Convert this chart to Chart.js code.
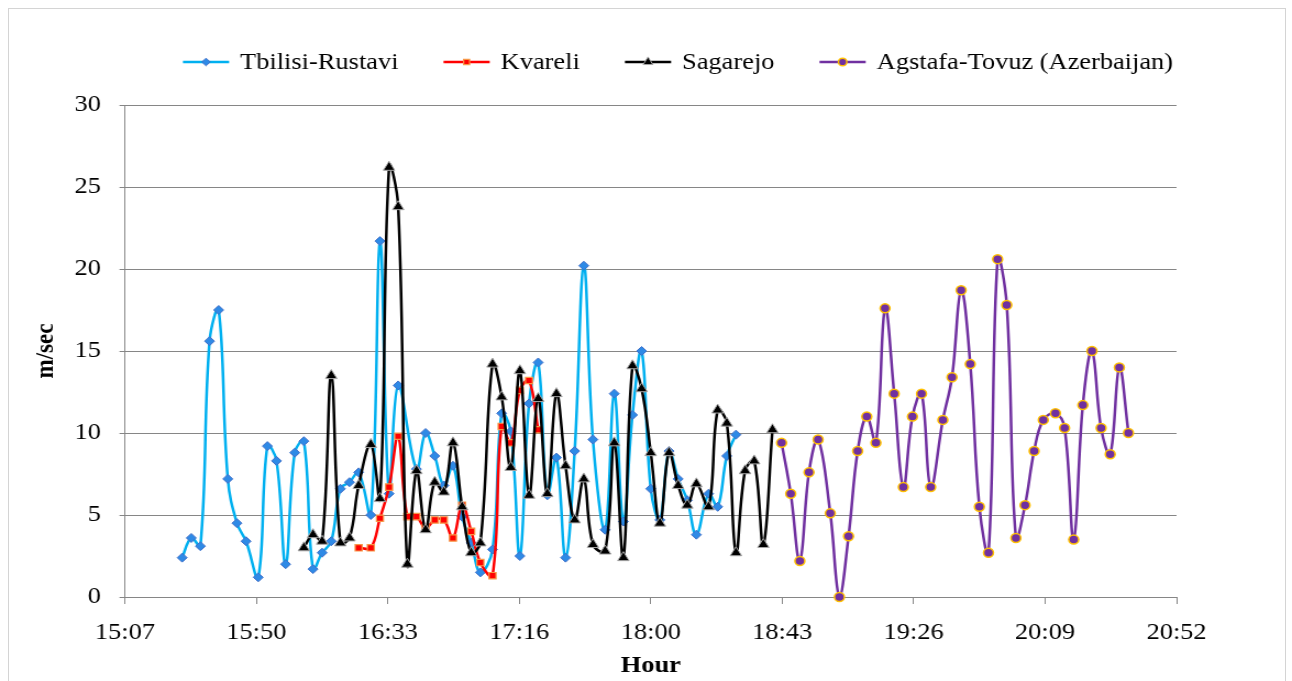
<!DOCTYPE html>
<html>
<head>
<meta charset="utf-8">
<title>Wind speed</title>
<script src="https://cdn.jsdelivr.net/npm/chart.js@4.4.3/dist/chart.umd.min.js"></script>
<style>
  html,body{margin:0;padding:0;background:#fff;}
  #wrap{position:relative;width:1292px;height:681px;overflow:hidden;}
  #chart{position:absolute;left:0;top:0;}
  #frame{position:absolute;left:8px;top:8px;width:1276px;height:700px;border:1px solid #d4d4d4;pointer-events:none;}
</style>
</head>
<body>
<div id="wrap">
  <canvas id="chart"></canvas>
  <div id="frame"></div>
</div>
<script>
// 원본 차트는 가로로 약간 늘어난 이미지 → 캔버스를 좁게 그리고 CSS로 늘림
const SX = 1.1;
const W = Math.round(1292 / SX), H = 681;
const FONT = "'Liberation Serif', 'Times New Roman', serif";

// 데이터 (시간 HH:MM, m/sec)
const seriesNames = ['Tbilisi-Rustavi', 'Kvareli', 'Sagarejo', 'Agstafa-Tovuz (Azerbaijan)'];

const tbilisiTimes = ['15:26','15:29','15:32','15:35','15:38','15:41','15:44','15:47','15:51','15:54','15:57',
  '16:00','16:03','16:06','16:09','16:12','16:15','16:18','16:21','16:24','16:28','16:31','16:34','16:37',
  '16:43','16:46','16:49','16:52','16:55','16:58','17:01','17:04','17:08','17:11','17:14','17:17','17:20',
  '17:23','17:26','17:29','17:32','17:35','17:38','17:41','17:45','17:48','17:51','17:54','17:57',
  '18:00','18:03','18:06','18:09','18:12','18:15','18:19','18:22','18:25','18:28'];
const tbilisiValues = [2.4,3.6,3.1,15.6,17.5,7.2,4.5,3.4,1.2,9.2,8.3,
  2.0,8.8,9.5,1.7,2.7,3.4,6.6,7.0,7.6,5.0,21.7,6.3,12.9,
  7.8,10.0,8.6,6.8,8.0,4.9,3.3,1.5,2.9,11.2,10.1,2.5,11.8,
  14.3,6.2,8.5,2.4,8.9,20.2,9.6,4.1,12.4,4.6,11.1,15.0,
  6.6,4.7,8.9,7.2,5.9,3.8,6.3,5.5,8.6,9.9];

const kvareliTimes = ['16:24','16:28','16:31','16:34','16:37','16:40','16:43','16:46','16:49','16:52',
  '16:55','16:58','17:01','17:04','17:08','17:11','17:14','17:17','17:20','17:23'];
const kvareliValues = [3.0,3.0,4.8,6.7,9.8,4.9,4.9,4.2,4.7,4.7,
  3.6,5.6,4.0,2.1,1.3,10.4,9.4,12.6,13.2,10.2];

const sagarejoTimes = ['16:06','16:09','16:12','16:15','16:18','16:21','16:24','16:28','16:31','16:34',
  '16:37','16:40','16:43','16:46','16:49','16:52','16:55','16:58','17:01','17:04','17:08','17:11',
  '17:14','17:17','17:20','17:23','17:26','17:29','17:32','17:35','17:38','17:41','17:45','17:48',
  '17:51','17:54','17:57','18:00','18:03','18:06','18:09','18:12','18:15','18:19','18:22','18:25',
  '18:28','18:31','18:34','18:37','18:40'];
const sagarejoValues = [3.0,3.8,3.4,13.5,3.3,3.6,6.8,9.3,6.0,26.2,
  23.8,2.0,7.7,4.1,7.0,6.4,9.4,5.5,2.7,3.3,14.2,12.2,
  7.9,13.8,6.2,12.1,6.3,12.4,8.0,4.7,7.2,3.2,2.8,9.4,
  2.4,14.1,12.7,8.8,4.5,8.8,6.8,5.6,6.9,5.5,11.4,10.6,
  2.7,7.7,8.3,3.2,10.2];

const agstafaTimes = ['18:43','18:46','18:49','18:52','18:55','18:59','19:02','19:05','19:08','19:11',
  '19:14','19:17','19:20','19:23','19:26','19:29','19:32','19:36','19:39','19:42','19:45','19:48',
  '19:51','19:54','19:57','20:00','20:03','20:06','20:09','20:13','20:16','20:19','20:22','20:25',
  '20:28','20:31','20:34','20:37'];
const agstafaValues = [9.4,6.3,2.2,7.6,9.6,5.1,0,3.7,8.9,11.0,
  9.4,17.6,12.4,6.7,11.0,12.4,6.7,10.8,13.4,18.7,14.2,5.5,
  2.7,20.6,17.8,3.6,5.6,8.9,10.8,11.2,10.3,3.5,11.7,15.0,
  10.3,8.7,14.0,10.0];

// x축 눈금 (Excel: 0.03일 = 43.2분 간격)
const xTickLabels = ['15:07','15:50','16:33','17:16','18:00','18:43','19:26','20:09','20:52'];
const xTickValues = [907.2, 950.4, 993.6, 1036.8, 1080, 1123.2, 1166.4, 1209.6, 1252.8];
const yTicks = [0, 5, 10, 15, 20, 25, 30];

const toMin = t => { const [h, m] = t.split(':').map(Number); return h * 60 + m; };
const pts = (times, vals) => times.map((t, i) => ({x: toMin(t), y: vals[i]}));

const canvas = document.getElementById('chart');
canvas.width = W; canvas.height = H;
// 인라인 스타일로 가로 늘림 (Chart.js가 덮어쓰지 않도록 미리 지정)
canvas.style.width = '1292px';
canvas.style.height = H + 'px';

// Excel 스타일 범례 (선 + 마커)
const excelLegend = {
  id: 'excelLegend',
  afterDraw(chart){
    const ctx = chart.ctx;
    ctx.save();
    ctx.font = `24px ${FONT}`;
    ctx.textBaseline = 'middle';
    ctx.textAlign = 'left';
    let x = 183 / SX;
    const y = 62;
    chart.data.datasets.forEach(ds => {
      ctx.strokeStyle = ds.borderColor; ctx.lineWidth = ds.borderWidth;
      ctx.beginPath(); ctx.moveTo(x, y); ctx.lineTo(x + 42, y); ctx.stroke();
      ctx.fillStyle = ds.pointBackgroundColor; ctx.strokeStyle = ds.pointBorderColor;
      ctx.lineWidth = ds.pointBorderWidth;
      Chart.helpers.drawPoint(ctx, {pointStyle: ds.pointStyle, radius: ds.pointRadius * 0.85,
        borderWidth: ds.pointBorderWidth, rotation: 0}, x + 21, y);
      ctx.fillStyle = '#000';
      ctx.fillText(ds.label, x + 52, y + 1);
      x += 52 + ctx.measureText(ds.label).width + 41;
    });
    ctx.restore();
  }
};

const base = {borderWidth: 2.5, tension: 0.4, clip: false, fill: false};

new Chart(canvas, {
  type: 'line',
  data: {
    datasets: [
      {...base, label: seriesNames[0], data: pts(tbilisiTimes, tbilisiValues), order: 3,
        borderColor: '#00B0F0', pointStyle: 'rectRot', pointRadius: 4.5,
        pointBackgroundColor: '#2E8AE6', pointBorderColor: '#3F6FC8', pointBorderWidth: 1},
      {...base, label: seriesNames[1], data: pts(kvareliTimes, kvareliValues), order: 2,
        borderColor: '#FF0000', pointStyle: 'rect', pointRadius: 4.5,
        pointBackgroundColor: '#FF0000', pointBorderColor: '#F79646', pointBorderWidth: 1.2},
      {...base, label: seriesNames[2], data: pts(sagarejoTimes, sagarejoValues), order: 1,
        borderColor: '#000000', pointStyle: 'triangle', pointRadius: 6,
        pointBackgroundColor: '#000000', pointBorderColor: '#A6A6A6', pointBorderWidth: 1},
      {...base, label: seriesNames[3], data: pts(agstafaTimes, agstafaValues), order: 0,
        borderColor: '#7030A0', pointStyle: 'circle', pointRadius: 4.5,
        pointBackgroundColor: '#7030A0', pointBorderColor: '#FFC000', pointBorderWidth: 1.5}
    ]
  },
  options: {
    responsive: false,
    animation: false,
    devicePixelRatio: 1,
    layout: {padding: {left: 7, right: W - 1177 / SX, top: 105, bottom: 0}},
    plugins: {legend: {display: false}, tooltip: {enabled: false}},
    scales: {
      x: {
        type: 'linear',
        min: xTickValues[0], max: xTickValues[xTickValues.length - 1],
        afterBuildTicks: s => { s.ticks = xTickValues.map(v => ({value: v})); },
        afterFit: s => { s.height = H - 597; },
        ticks: {
          autoSkip: false, maxRotation: 0, padding: 14, color: '#000',
          font: {family: FONT, size: 24},
          callback: (v, i) => xTickLabels[i]
        },
        grid: {drawOnChartArea: false, drawTicks: true, tickLength: 7, color: '#868686'},
        border: {display: true, color: '#868686', width: 1},
        title: {display: true, text: 'Hour', color: '#000',
          font: {family: FONT, size: 24, weight: 'bold'}, padding: {top: 0, bottom: 1}}
      },
      y: {
        min: 0, max: 30,
        afterBuildTicks: s => { s.ticks = yTicks.map(v => ({value: v})); },
        afterFit: s => { s.width = 125 / SX - 7; },
        ticks: {padding: 17, color: '#000', font: {family: FONT, size: 24}},
        grid: {color: '#868686', lineWidth: 1, drawTicks: true, tickLength: 5},
        border: {display: true, color: '#868686', width: 1},
        title: {display: true, text: 'm/sec', color: '#000',
          font: {family: FONT, size: 23, weight: 'bold'}, padding: {top: 21, bottom: 0}}
      }
    }
  },
  plugins: [excelLegend]
});
</script>
</body>
</html>
